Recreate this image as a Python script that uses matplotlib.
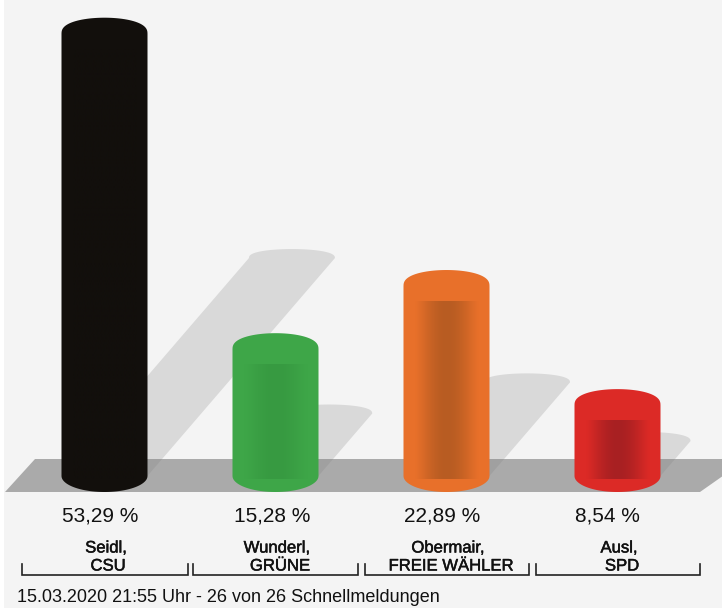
import numpy as np
import matplotlib
matplotlib.use("Agg")
import matplotlib.pyplot as plt
import matplotlib.patheffects as pe
from matplotlib.patches import Polygon, Rectangle, Ellipse

first_names = ["Seidl,", "Wunderl,", "Obermair,", "Ausl,"]
party_names = ["CSU", "GRÜNE", "FREIE WÄHLER", "SPD"]
shares = [53.29, 15.28, 22.89, 8.54]
share_labels = ["53,29 %", "15,28 %", "22,89 %", "8,54 %"]
body_colors = ["#120f0c", "#3ea648", "#e8702a", "#dc2a26"]
core_colors = ["#120f0c", "#379a41", "#b85c22", "#a82022"]
footer = "15.03.2020 21:55 Uhr - 26 von 26 Schnellmeldungen"

plt.rcParams["font.family"] = ["Liberation Sans", "DejaVu Sans"]

# layout: pixels per category and per percentage point
SX, SY = 171.0, 8.3
X0, Y0 = 104.5, 476.0
W, H = 722, 608
HALF_W = 43 / SX
RY = 16 / SY
share_x = [100, 272, 442, 607]
first_x = [106, 277, 448, 619]
party_x = [108, 280, 451, 622]
bracket_edges = [(22, 188), (193, 358), (365, 529), (536, 700)]

def hexrgb(c):
    return np.array(matplotlib.colors.to_rgb(c))

def px(x):
    return (x - X0) / SX

def py(y):
    return (Y0 - y) / SY

fig = plt.figure(figsize=(W / 100, H / 100), dpi=100, facecolor="white")
ax = fig.add_axes([0, 0, 1, 1])
ax.axis("off")

ax.add_patch(Rectangle((px(4), py(H)), px(W) - px(4), py(0) - py(H), fc="#f4f4f4", ec="none", zorder=0))

# cast shadows: sheared copy of each cylinder
SHADOW_RISE = 4.09 / SY
SHADOW_SHEAR = 0.86
t = np.linspace(0, np.pi, 40)
for i, v in enumerate(shares):
    rise = v * SHADOW_RISE
    shift = rise * SY * SHADOW_SHEAR / SX
    arc_x = i + shift + HALF_W * np.cos(t)
    arc_y = rise + (9 / SY) * np.sin(t) ** 0.8
    pts = np.column_stack([arc_x, arc_y])
    ax.add_patch(Polygon(np.vstack([[[i + HALF_W, 0]], pts, [[i - HALF_W, 0]]]),
                         closed=True, fc="#d9d9d9", ec="none", zorder=1))

# floor
ax.add_patch(Polygon([[px(5), py(492)], [px(35), py(459)], [px(W + 25), py(459)], [px(700), py(492)]],
                     closed=True, fc="#808080", ec="none", alpha=0.63, zorder=2))

# cylinders
for i, (v, c, core) in enumerate(zip(shares, body_colors, core_colors)):
    tt = np.linspace(0, np.pi, 50)
    top = np.column_stack([i + HALF_W * np.cos(tt), v + RY * np.sin(tt) ** 0.8])
    bot = np.column_stack([i - HALF_W * np.cos(tt), -RY * np.sin(tt)])
    ax.add_patch(Polygon(np.vstack([top, bot]), closed=True, fc=c, ec="none", zorder=3))
    # darker core with a horizontal gradient, below the cap
    u = np.linspace(-1, 1, 120)
    w = (np.cos(u * np.pi / 2) ** 1.2)[None, :, None]
    rgb = hexrgb(c)[None, None, :] * (1 - w) + hexrgb(core)[None, None, :] * w
    core_half = 32 / SX
    core_top = v - RY
    ax.imshow(rgb, extent=[i - core_half, i + core_half, -RY * 0.2, core_top],
              aspect="auto", zorder=4, interpolation="bilinear")

ax.set_xlim(px(0), px(W))
ax.set_ylim(py(H), py(0))

# value labels and names
stroke = [pe.withStroke(linewidth=0.35, foreground="#111111")]
for i in range(len(shares)):
    ax.text(px(share_x[i]), py(516), share_labels[i], ha="center", va="center", fontsize=15,
            color="#111111", zorder=6)
    ax.text(px(first_x[i]), py(548), first_names[i], ha="center", va="center", fontsize=12,
            color="#111111", zorder=6, path_effects=stroke)
    ax.text(px(party_x[i]), py(566), party_names[i], ha="center", va="center", fontsize=12,
            color="#111111", zorder=6, path_effects=stroke)

# brackets
for a, b in bracket_edges:
    ax.plot([px(a), px(a), px(b), px(b)], [py(564), py(575), py(575), py(564)],
            color="#222222", lw=1.2, solid_joinstyle="miter", zorder=6)

ax.text(px(17), py(597), footer, ha="left", va="center", fontsize=13, color="#111111", zorder=6)

fig.savefig("out.png", dpi=100)
